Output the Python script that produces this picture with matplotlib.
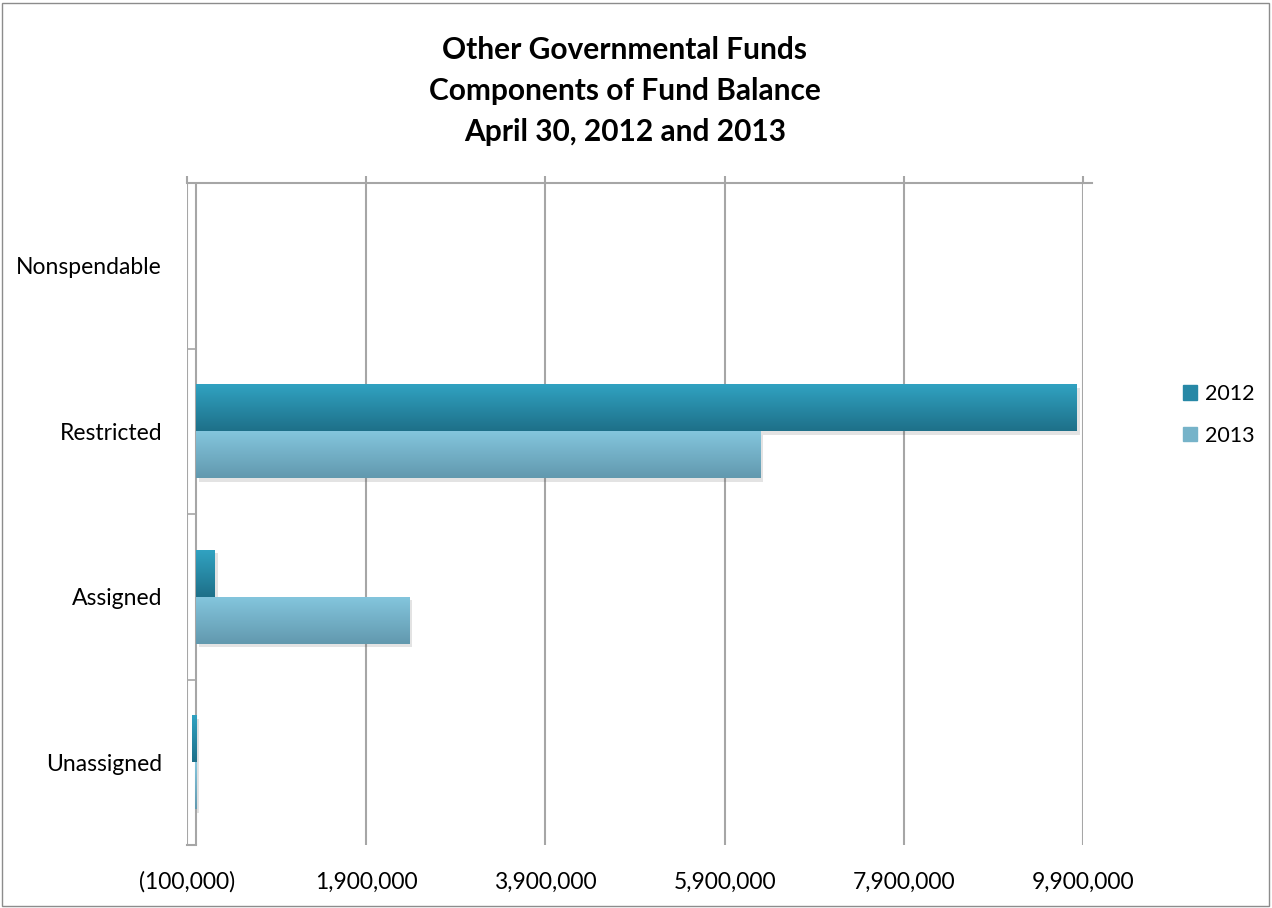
import numpy as np
import matplotlib
matplotlib.use("Agg")
import matplotlib.pyplot as plt
from matplotlib.patches import Rectangle
from matplotlib.colors import LinearSegmentedColormap
import matplotlib.patheffects as pe

categories = ["Nonspendable", "Restricted", "Assigned", "Unassigned"]
series_names = ["2012", "2013"]
values_2012 = [0, 9830000, 212000, -45000]
values_2013 = [0, 6300000, 2380000, -15000]
xticks = [-100000, 1900000, 3900000, 5900000, 7900000, 9900000]
xtick_labels = ["(100,000)", "1,900,000", "3,900,000", "5,900,000", "7,900,000", "9,900,000"]
title_lines = ["Other Governmental Funds", "Components of Fund Balance", "April 30, 2012 and 2013"]

plt.rcParams['font.family'] = ['Lato', 'DejaVu Sans']

fig = plt.figure(figsize=(12.72, 9.08), dpi=100)
ax = fig.add_axes([187/1272, 1-845/908, (1083-187)/1272, (845-183)/908])

grad_colors = {
    "2012": ("#31a3c2", "#1e7089"),
    "2013": ("#84c6de", "#6299ae"),
}
legend_colors = {"2012": "#2788a6", "2013": "#76b3c9"}

bh = 0.285
ypos = np.arange(len(categories))
for i, (name, vals) in enumerate(zip(series_names, [values_2012, values_2013])):
    off = -bh/2 if i == 0 else bh/2
    bars = ax.barh(ypos + off, vals, height=bh, color=legend_colors[name], zorder=3,
                   edgecolor='none')
    c_top, c_bot = grad_colors[name]
    cmap = LinearSegmentedColormap.from_list(name, [c_top, c_bot])
    for b in bars:
        if b.get_width() == 0:
            continue
        b.set_path_effects([pe.SimplePatchShadow(offset=(2, -2.5), alpha=0.15, shadow_rgbFace='#444444'), pe.Normal()])
        x0, y0, w, h = b.get_x(), b.get_y(), b.get_width(), b.get_height()
        xa, xb = sorted([x0, x0 + w])
        grad = np.linspace(0, 1, 64).reshape(-1, 1)
        im = ax.imshow(grad, cmap=cmap, aspect='auto', extent=[xa, xb, y0 + h, y0],
                       origin='upper', zorder=4, interpolation='bilinear')
        im.set_clip_path(b)

ax.set_xlim(-100000, 9900000)
ax.set_ylim(len(categories) - 0.5, -0.5)
ax.set_xticks(xticks)
ax.set_xticklabels(xtick_labels, fontsize=16.5)
ax.set_yticks(ypos)
ax.set_yticklabels(categories, fontsize=16.5)
ax.tick_params(axis='y', length=0, pad=18)
ax.tick_params(axis='x', bottom=False, top=True, labeltop=False, labelbottom=True,
               length=5, width=1.5, color='#a6a6a6', direction='out', pad=14)
ax.grid(axis='x', color='#a6a6a6', linewidth=1.5, zorder=0)
ax.set_axisbelow(True)
for s in ['left', 'right', 'bottom']:
    ax.spines[s].set_visible(False)
ax.spines['top'].set_color('#a6a6a6')
ax.spines['top'].set_linewidth(1.5)
ax.axvline(0, color='#a6a6a6', linewidth=1.5, zorder=2)
for yb in [0.5, 1.5, 2.5]:
    ax.plot([-90000, 0], [yb, yb], color='#a6a6a6', linewidth=1.2, zorder=2, clip_on=False)
ax.plot([-100000, 0], [3.5, 3.5], color='#a6a6a6', linewidth=1.5, zorder=2, clip_on=False)
ax.plot([9900000, 10000000], [-0.5, -0.5], color='#a6a6a6', linewidth=1.5, clip_on=False)

fig.text(625/1272, 1-91/908, "\n".join(title_lines), ha='center', va='center',
         fontsize=21.5, fontweight='bold', linespacing=1.55)

handles = [Rectangle((0, 0), 1, 1, color=legend_colors[n]) for n in series_names]
leg = fig.legend(handles, series_names, loc='center left', bbox_to_anchor=(1183/1272, 1-415/908),
                 frameon=False, fontsize=15.5, handlelength=0.65, handleheight=0.65,
                 handletextpad=0.35, labelspacing=1.0, borderpad=0, borderaxespad=0)

fig.patches.append(Rectangle((2/1272, 2/908), 1267/1272, 903/908, transform=fig.transFigure,
                             fill=False, edgecolor='#8c8c8c', linewidth=1.0))

fig.savefig("out.png", dpi=100)
